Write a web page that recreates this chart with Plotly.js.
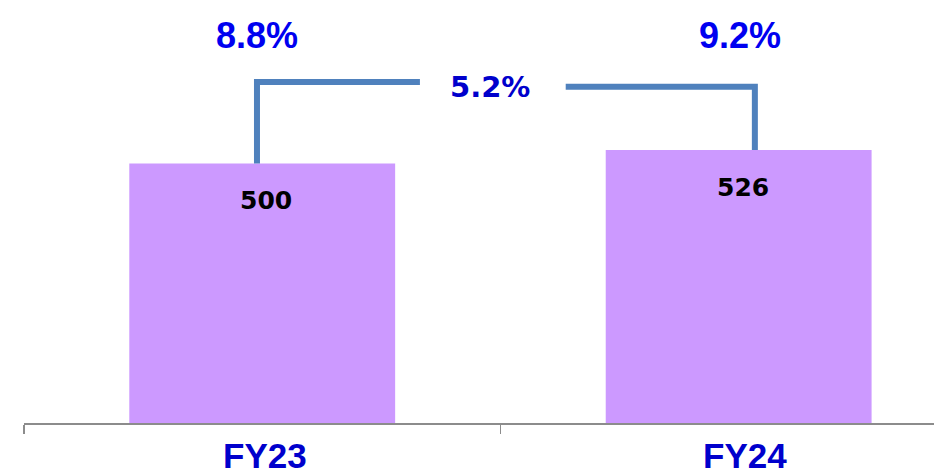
<!DOCTYPE html>
<html>
<head>
<meta charset="utf-8">
<script src="https://cdn.plot.ly/plotly-3.0.1.min.js"></script>
<style>html,body{margin:0;padding:0;background:#fff;}#chart{width:934px;height:474px;}</style>
</head>
<body>
<div id="chart"></div>
<script>
// Data
const categories = ['FY23', 'FY24'];
const values = [500, 526];
const marginLabels = ['8.8%', '9.2%'];
const growthLabel = '5.2%';

const barTrace = {
  type: 'bar',
  x: categories,
  y: values,
  marker: {color: '#CC99FF'},
  width: 0.558,
  hoverinfo: 'skip',
  showlegend: false
};

const annotations = [];
categories.forEach((c, i) => {
  // value labels inside bars
  annotations.push({
    x: c, y: values[i], xref: 'x', yref: 'y',
    text: String(values[i]),
    showarrow: false, xanchor: 'center', yanchor: 'middle',
    xshift: 4, yshift: -37,
    font: {family: 'DejaVu Sans', size: 25, color: '#000000', weight: 'bold'}
  });
  // margin labels above
  annotations.push({
    x: c, y: 0.917, xref: 'x', yref: 'paper',
    text: marginLabels[i],
    showarrow: false, xanchor: 'center', yanchor: 'middle',
    xshift: i === 0 ? -5 : 1,
    font: {family: 'Liberation Sans, Arial', size: 36, color: '#0000F0', weight: 'bold'}
  });
  // category labels (drawn as annotations so they fit the canvas)
  annotations.push({
    x: c, y: -0.0757, xref: 'x', yref: 'paper',
    text: c,
    showarrow: false, xanchor: 'center', yanchor: 'middle',
    xshift: i === 0 ? 3 : 6,
    font: {family: 'Liberation Sans, Arial', size: 35, color: '#0000CC', weight: 'bold'}
  });
});
annotations.push({
  x: 0.478, y: 0.795, xref: 'x', yref: 'paper',
  text: growthLabel, showarrow: false, xanchor: 'center', yanchor: 'middle',
  font: {family: 'DejaVu Sans', size: 29, color: '#0000CC', weight: 'bold'}
});

// connector (elbow) lines
const lineColor = '#4F81BD';
const yTopL = 657, yTopR = 648;
const xL = -0.011, xR = 1.034, xGapL = 0.331, xGapR = 0.637;
const paths = [
  `M ${xL} ${values[0]} L ${xL} ${yTopL} L ${xGapL} ${yTopL}`,
  `M ${xGapR} ${yTopR} L ${xR} ${yTopR} L ${xR} ${values[1]}`
];
const shapes = [];
paths.forEach(p => {
  shapes.push({type: 'path', xref: 'x', yref: 'y', path: p,
    line: {color: lineColor, width: 6}, layer: 'above'});
});

const layout = {
  width: 934, height: 474,
  margin: {l: 24, r: 0, t: 0, b: 51, pad: 0},
  paper_bgcolor: '#ffffff', plot_bgcolor: '#ffffff',
  bargap: 0.44,
  xaxis: {
    type: 'category',
    range: [-0.5, 1.41],
    showline: true, linecolor: '#8C8C8C', linewidth: 1.5,
    ticks: 'outside', tickson: 'boundaries', ticklen: 9, tickcolor: '#8C8C8C', tickwidth: 1.5,
    showticklabels: false,
    showgrid: false, zeroline: false,
    fixedrange: true
  },
  yaxis: {
    range: [0, 815], visible: false, showgrid: false, zeroline: false, fixedrange: true
  },
  annotations: annotations,
  shapes: shapes,
  showlegend: false
};

Plotly.newPlot('chart', [barTrace], layout, {displayModeBar: false, staticPlot: true});
</script>
</body>
</html>
